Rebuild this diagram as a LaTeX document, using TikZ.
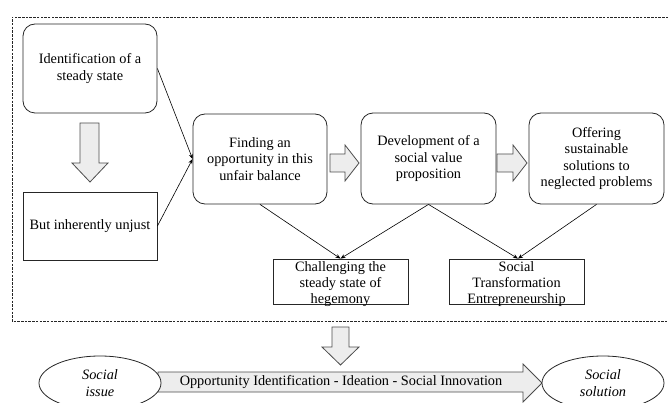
\documentclass[tikz,border=0pt]{standalone}
\usepackage{fontspec}
\setmainfont{Liberation Serif}
\usetikzlibrary{arrows.meta,shapes.geometric}
\begin{document}
\begin{tikzpicture}[x=1pt,y=-1pt,
  fnt/.style={font=\fontsize{14.3}{16.4}\selectfont},
  rbox/.style={fnt, draw=black!85, line width=0.8pt, rounded corners=12pt, align=center, inner sep=0pt},
  sbox/.style={fnt, draw=black!85, line width=0.8pt, align=center, inner sep=0pt},
  txt/.style={fnt, align=center, inner sep=0pt},
  conn/.style={-{Stealth[length=5pt,width=4pt]}, line width=0.6pt},
  barrow/.style={draw=black!70, fill=black!7, line width=0.8pt, line join=miter},
  ell/.style={ellipse, draw=black!85, fill=white, line width=0.8pt, minimum width=122pt, minimum height=54pt, inner sep=0pt, align=center, font=\fontsize{14.3}{16.4}\selectfont\itshape},
  dashbox/.style={draw=black!85, line width=0.7pt, dash pattern=on 2.5pt off 1.2pt}
]
\useasboundingbox (0,0) rectangle (668,403);
% dashed frame
\draw[dashbox] (672,17) -- (12,17) -- (12,321) -- (672,321);
% boxes
\node[rbox, minimum width=134pt, minimum height=89pt] (b1) at (90,68.5) {Identification of a\\steady state};
\node[sbox, minimum width=134pt, minimum height=68pt] (b2) at (90,226) {But inherently unjust};
\node[rbox, minimum width=134pt, minimum height=90pt] (b3) at (260,159) {Finding an\\opportunity in this\\unfair balance};
\node[rbox, minimum width=135pt, minimum height=91pt] (b4) at (428.5,158.5) {Development of a\\social value\\proposition};
\node[rbox, minimum width=135pt, minimum height=91pt] (b5) at (596.5,158.5) {Offering\\sustainable\\solutions to\\neglected problems};
\node[sbox, minimum width=135pt, minimum height=45pt] (b6) at (340.5,281.5) {};
\node[txt] (t6) at (340.5,284) {Challenging the\\steady state of\\hegemony};
\node[sbox, minimum width=135pt, minimum height=45pt] (b7) at (516.5,281.5) {};
\node[txt] (t7) at (516.5,284) {Social\\Transformation\\Entrepreneurship};
% block arrows
\draw[barrow] (80,123) -- (99,123) -- (99,163) -- (108,163) -- (90,182) -- (72,163) -- (80,163) -- cycle;
\draw[barrow] (330,154) -- (345,154) -- (345,145) -- (359,163) -- (345,181) -- (345,172) -- (330,172) -- cycle;
\draw[barrow] (497,154) -- (513,154) -- (513,145) -- (527,163) -- (513,181) -- (513,172) -- (497,172) -- cycle;
\draw[barrow] (332,327) -- (349,327) -- (349,347) -- (359,347) -- (340.5,365) -- (322,347) -- (332,347) -- cycle;
\draw[barrow] (158,372) -- (523,372) -- (523,364) -- (542,383) -- (523,402) -- (523,392) -- (158,392) -- cycle;
\node[txt] (lt) at (341,382) {Opportunity Identification - Ideation - Social Innovation};
% ellipses
\node[ell] (e1) at (100,383) {Social\\issue};
\node[ell] (e2) at (603,383) {Social\\solution};
% connectors
\draw[conn] (b1.east) -- (b3.west);
\draw[conn] (b2.east) -- (b3.west);
\draw[conn] (b3.south) -- (b6.north);
\draw[conn] (b4.south) -- (b6.north);
\draw[conn] (b4.south) -- ([xshift=1.5pt]b7.north);
\draw[conn] (b5.south) -- ([xshift=1.5pt]b7.north);
\end{tikzpicture}
\end{document}
